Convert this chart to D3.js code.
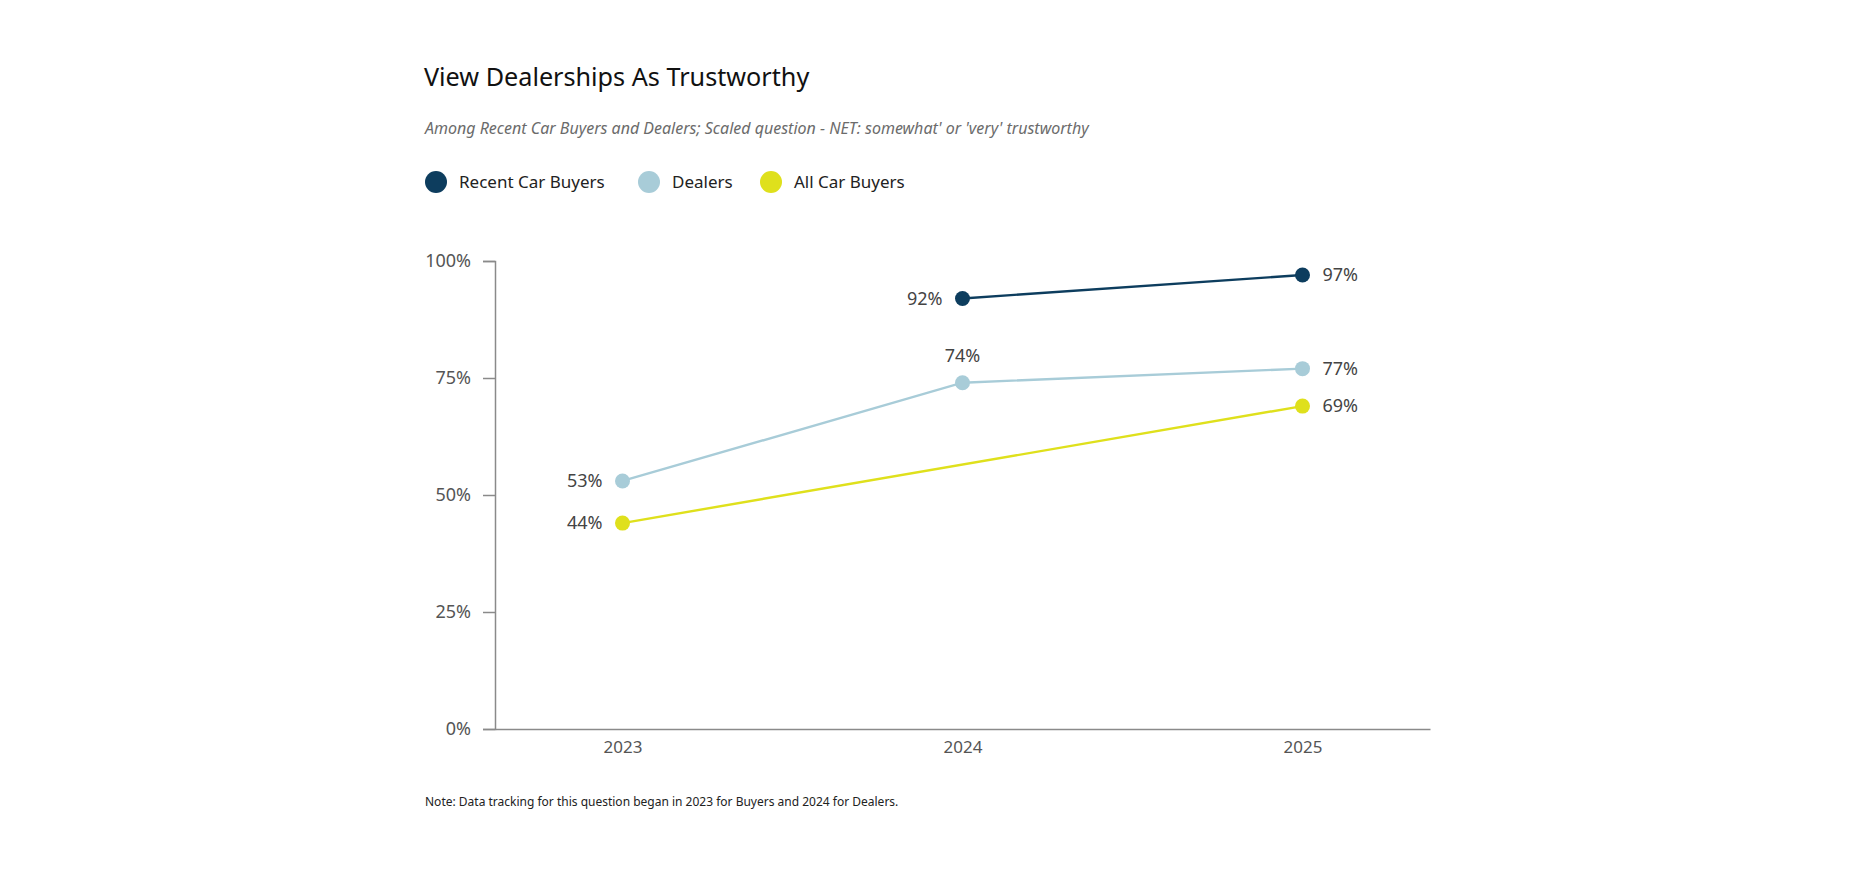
<!DOCTYPE html>
<html>
<head>
<meta charset="utf-8">
<script src="https://cdn.jsdelivr.net/npm/d3@7"></script>
<style>
  body { margin: 0; background: #fff; }
  svg text { font-family: "Noto Sans", sans-serif; }
</style>
</head>
<body>
<svg id="chart" width="1856" height="880"></svg>
<script>
// Chart data
var years = ["2023", "2024", "2025"];
var recentBuyers = [null, 92, 97];
var dealers = [53, 74, 77];
var allBuyers = [44, null, 69];
var yTicks = [0, 25, 50, 75, 100];

var seriesNames = ["Recent Car Buyers", "Dealers", "All Car Buyers"];
var seriesColors = ["#0d3d5e", "#a8ccd8", "#dfe01c"];
// where each point's value label sits: left, right or above
var labelPos = [
    [null, "left", "right"],
    ["left", "above", "right"],
    ["left", null, "right"]
];

var svg = d3.select("#chart");
var margin = { left: 495, right: 426, top: 261, bottom: 151 };
var width = 1856, height = 880;

var x = d3.scalePoint()
    .domain(years)
    .range([margin.left, width - margin.right])
    .padding(0.375);

var y = d3.scaleLinear()
    .domain([0, 100])
    .range([height - margin.bottom, margin.top]);

// Title, subtitle
svg.append("text")
    .attr("x", 424).attr("y", 86)
    .attr("font-size", 25.2).attr("fill", "#111")
    .text("View Dealerships As Trustworthy");

svg.append("text")
    .attr("x", 425).attr("y", 134)
    .attr("font-size", 16).attr("font-style", "italic").attr("fill", "#6b6b6b")
    .text("Among Recent Car Buyers and Dealers; Scaled question - NET: somewhat' or 'very' trustworthy");

// Legend
var legendX = [436, 649, 771];
var legend = svg.append("g").selectAll("g")
    .data(seriesNames)
    .join("g")
    .attr("transform", (d, i) => `translate(${legendX[i]}, 182)`);
legend.append("circle").attr("r", 11).attr("fill", (d, i) => seriesColors[i]);
legend.append("text")
    .attr("x", 23).attr("dy", "0.35em")
    .attr("font-size", 17).attr("fill", "#222")
    .text(d => d);

// Y axis
var yAxis = svg.append("g")
    .attr("transform", `translate(${margin.left},0)`)
    .call(d3.axisLeft(y).tickValues(yTicks).tickSize(12).tickPadding(12).tickFormat(d => d + "%"));
yAxis.select(".domain").attr("stroke", "#8a8a8a").attr("stroke-width", 1.5);
yAxis.selectAll(".tick line").attr("stroke", "#8a8a8a").attr("stroke-width", 1.5);
yAxis.selectAll(".tick text").attr("font-size", 18).attr("fill", "#555");

// X axis
var xAxis = svg.append("g")
    .attr("transform", `translate(0,${y(0)})`)
    .call(d3.axisBottom(x).tickSize(0).tickPadding(12));
xAxis.select(".domain").attr("stroke", "#8a8a8a").attr("stroke-width", 1.5);
xAxis.selectAll(".tick text").attr("font-size", 17).attr("fill", "#555");

// Lines and points
var allSeries = [recentBuyers, dealers, allBuyers];
var line = d3.line().x(d => x(d.year)).y(d => y(d.value));

allSeries.forEach(function (values, s) {
    var pts = values
        .map((v, i) => ({ year: years[i], value: v, pos: labelPos[s][i] }))
        .filter(d => d.value != null);

    svg.append("path")
        .datum(pts)
        .attr("fill", "none")
        .attr("stroke", seriesColors[s])
        .attr("stroke-width", 2.4)
        .attr("d", line);

    svg.append("g").selectAll("circle")
        .data(pts)
        .join("circle")
        .attr("cx", d => x(d.year))
        .attr("cy", d => y(d.value))
        .attr("r", 7.5)
        .attr("fill", seriesColors[s]);

    svg.append("g").selectAll("text")
        .data(pts)
        .join("text")
        .attr("x", d => x(d.year) + (d.pos == "left" ? -20 : d.pos == "right" ? 20 : 0))
        .attr("y", d => y(d.value) + (d.pos == "above" ? -27 : 0))
        .attr("dy", "0.35em")
        .attr("text-anchor", d => d.pos == "left" ? "end" : d.pos == "right" ? "start" : "middle")
        .attr("font-size", 18)
        .attr("fill", "#444")
        .text(d => d.value + "%");
});

// Footnote
svg.append("text")
    .attr("x", 425).attr("y", 806)
    .attr("font-size", 12).attr("fill", "#222")
    .text("Note: Data tracking for this question began in 2023 for Buyers and 2024 for Dealers.");
</script>
</body>
</html>
